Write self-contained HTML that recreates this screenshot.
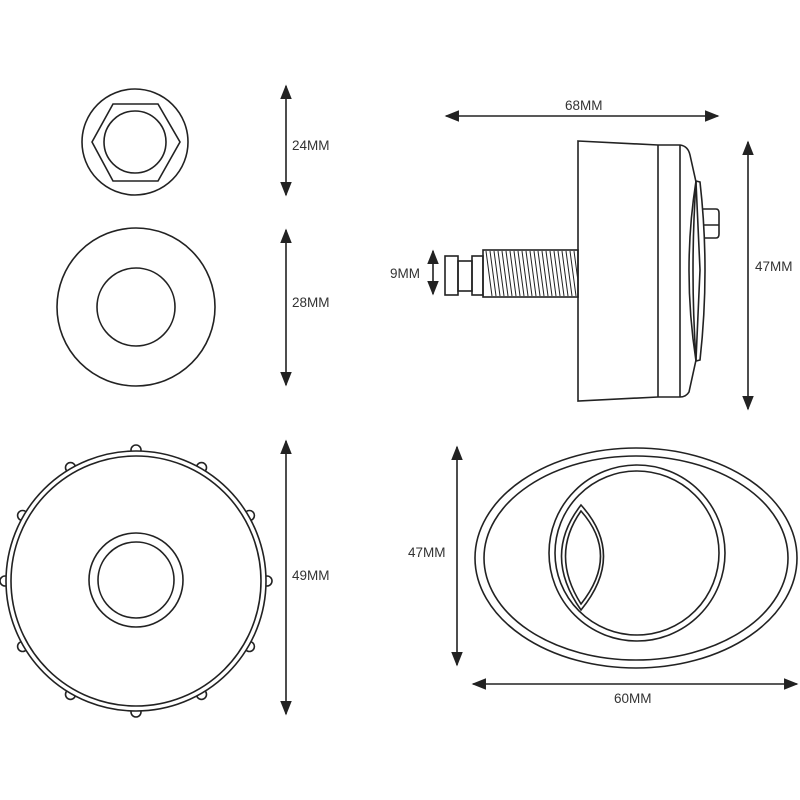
<!DOCTYPE html>
<html><head><style>body{margin:0;background:#fff}svg{display:block}text{font-family:"Liberation Sans",sans-serif;font-size:13.5px;fill:#333}</style></head>
<body>
<svg width="800" height="800" viewBox="0 0 800 800" xmlns="http://www.w3.org/2000/svg">
<defs><marker id="a" viewBox="0 0 10 10" refX="9" refY="5" markerWidth="9" markerHeight="9" orient="auto-start-reverse"><path d="M0,1 L10,5 L0,9 z" fill="#222"/></marker></defs>
<g fill="none" stroke="#222" stroke-width="1.6">
<circle cx="135" cy="142" r="53"/>
<polygon points="92,142 113,104 158,104 180,142 158,181 113,181"/>
<circle cx="135" cy="142" r="31"/>
<circle cx="136" cy="307" r="79"/>
<circle cx="136" cy="307" r="39"/>
<g fill="#fff">
<circle cx="267" cy="581" r="5"/><circle cx="249.4" cy="646.5" r="5"/><circle cx="201.5" cy="694.4" r="5"/>
<circle cx="136" cy="712" r="5"/><circle cx="70.5" cy="694.4" r="5"/><circle cx="22.6" cy="646.5" r="5"/>
<circle cx="5" cy="581" r="5"/><circle cx="22.6" cy="515.5" r="5"/><circle cx="70.5" cy="467.6" r="5"/>
<circle cx="136" cy="450" r="5"/><circle cx="201.5" cy="467.6" r="5"/><circle cx="249.4" cy="515.5" r="5"/>
<circle cx="136" cy="581" r="130"/>
</g>
<circle cx="136" cy="581" r="125"/>
<circle cx="136" cy="580" r="47"/>
<circle cx="136" cy="580" r="38"/>
<line x1="286" y1="86" x2="286" y2="195" marker-start="url(#a)" marker-end="url(#a)"/>
<line x1="286" y1="230" x2="286" y2="385" marker-start="url(#a)" marker-end="url(#a)"/>
<line x1="286" y1="441" x2="286" y2="714" marker-start="url(#a)" marker-end="url(#a)"/>
<line x1="446" y1="116" x2="718" y2="116" marker-start="url(#a)" marker-end="url(#a)"/>
<line x1="748" y1="142" x2="748" y2="409" marker-start="url(#a)" marker-end="url(#a)"/>
<line x1="433" y1="251" x2="433" y2="294" marker-start="url(#a)" marker-end="url(#a)"/>
<line x1="457" y1="447" x2="457" y2="665" marker-start="url(#a)" marker-end="url(#a)"/>
<line x1="473" y1="684" x2="797" y2="684" marker-start="url(#a)" marker-end="url(#a)"/>
<path d="M578,141 L658,145 L680,145 Q688,146 690,155 L696,182 L700,270 L696,360 L689,392 Q686,397 680,397 L658,397 L578,401 Z"/>
<line x1="658" y1="145" x2="658" y2="397"/>
<line x1="680" y1="145" x2="680" y2="397"/>
<path d="M696,181 L700,182 Q710,270 700,360 L696,361 Q682,270 696,181 Z"/>
<path d="M696,182 Q690,270 696,360"/>
<path d="M703,209 L716,209 Q719,209 719,213 L719,234 Q719,238 716,238 L705,238 M704,225 L719,225"/>
<rect x="483" y="250" width="95" height="47"/>
<rect x="472" y="256" width="11" height="39"/>
<rect x="458" y="261" width="14" height="30"/>
<rect x="445" y="256" width="13" height="39"/>
</g>
<path stroke="#222" stroke-width="1" d="M486,251L492,296M490,251L496,296M494,251L500,296M498,251L504,296M502,251L508,296M506,251L512,296M510,251L516,296M514,251L520,296M518,251L524,296M522,251L528,296M526,251L532,296M530,251L536,296M534,251L540,296M538,251L544,296M542,251L548,296M546,251L552,296M550,251L556,296M554,251L560,296M558,251L564,296M562,251L568,296M566,251L572,296M570,251L576,296M574,251L578,281"/>
<g fill="none" stroke="#222" stroke-width="1.6">
<ellipse cx="636" cy="558" rx="161" ry="110"/>
<ellipse cx="636" cy="558" rx="152" ry="102"/>
<circle cx="637" cy="553" r="88"/>
<circle cx="637" cy="553" r="82"/>
<path d="M581,505 Q626,555 581,610 Q542,555 581,505 Z"/>
<path d="M581,511 Q620,555 581,604 Q550,555 581,511 Z"/>
</g>
<text x="292" y="150">24MM</text>
<text x="292" y="307">28MM</text>
<text x="292" y="580">49MM</text>
<text x="565" y="110">68MM</text>
<text x="755" y="271">47MM</text>
<text x="390" y="278">9MM</text>
<text x="408" y="557">47MM</text>
<text x="614" y="703">60MM</text>
</svg>
</body></html>
